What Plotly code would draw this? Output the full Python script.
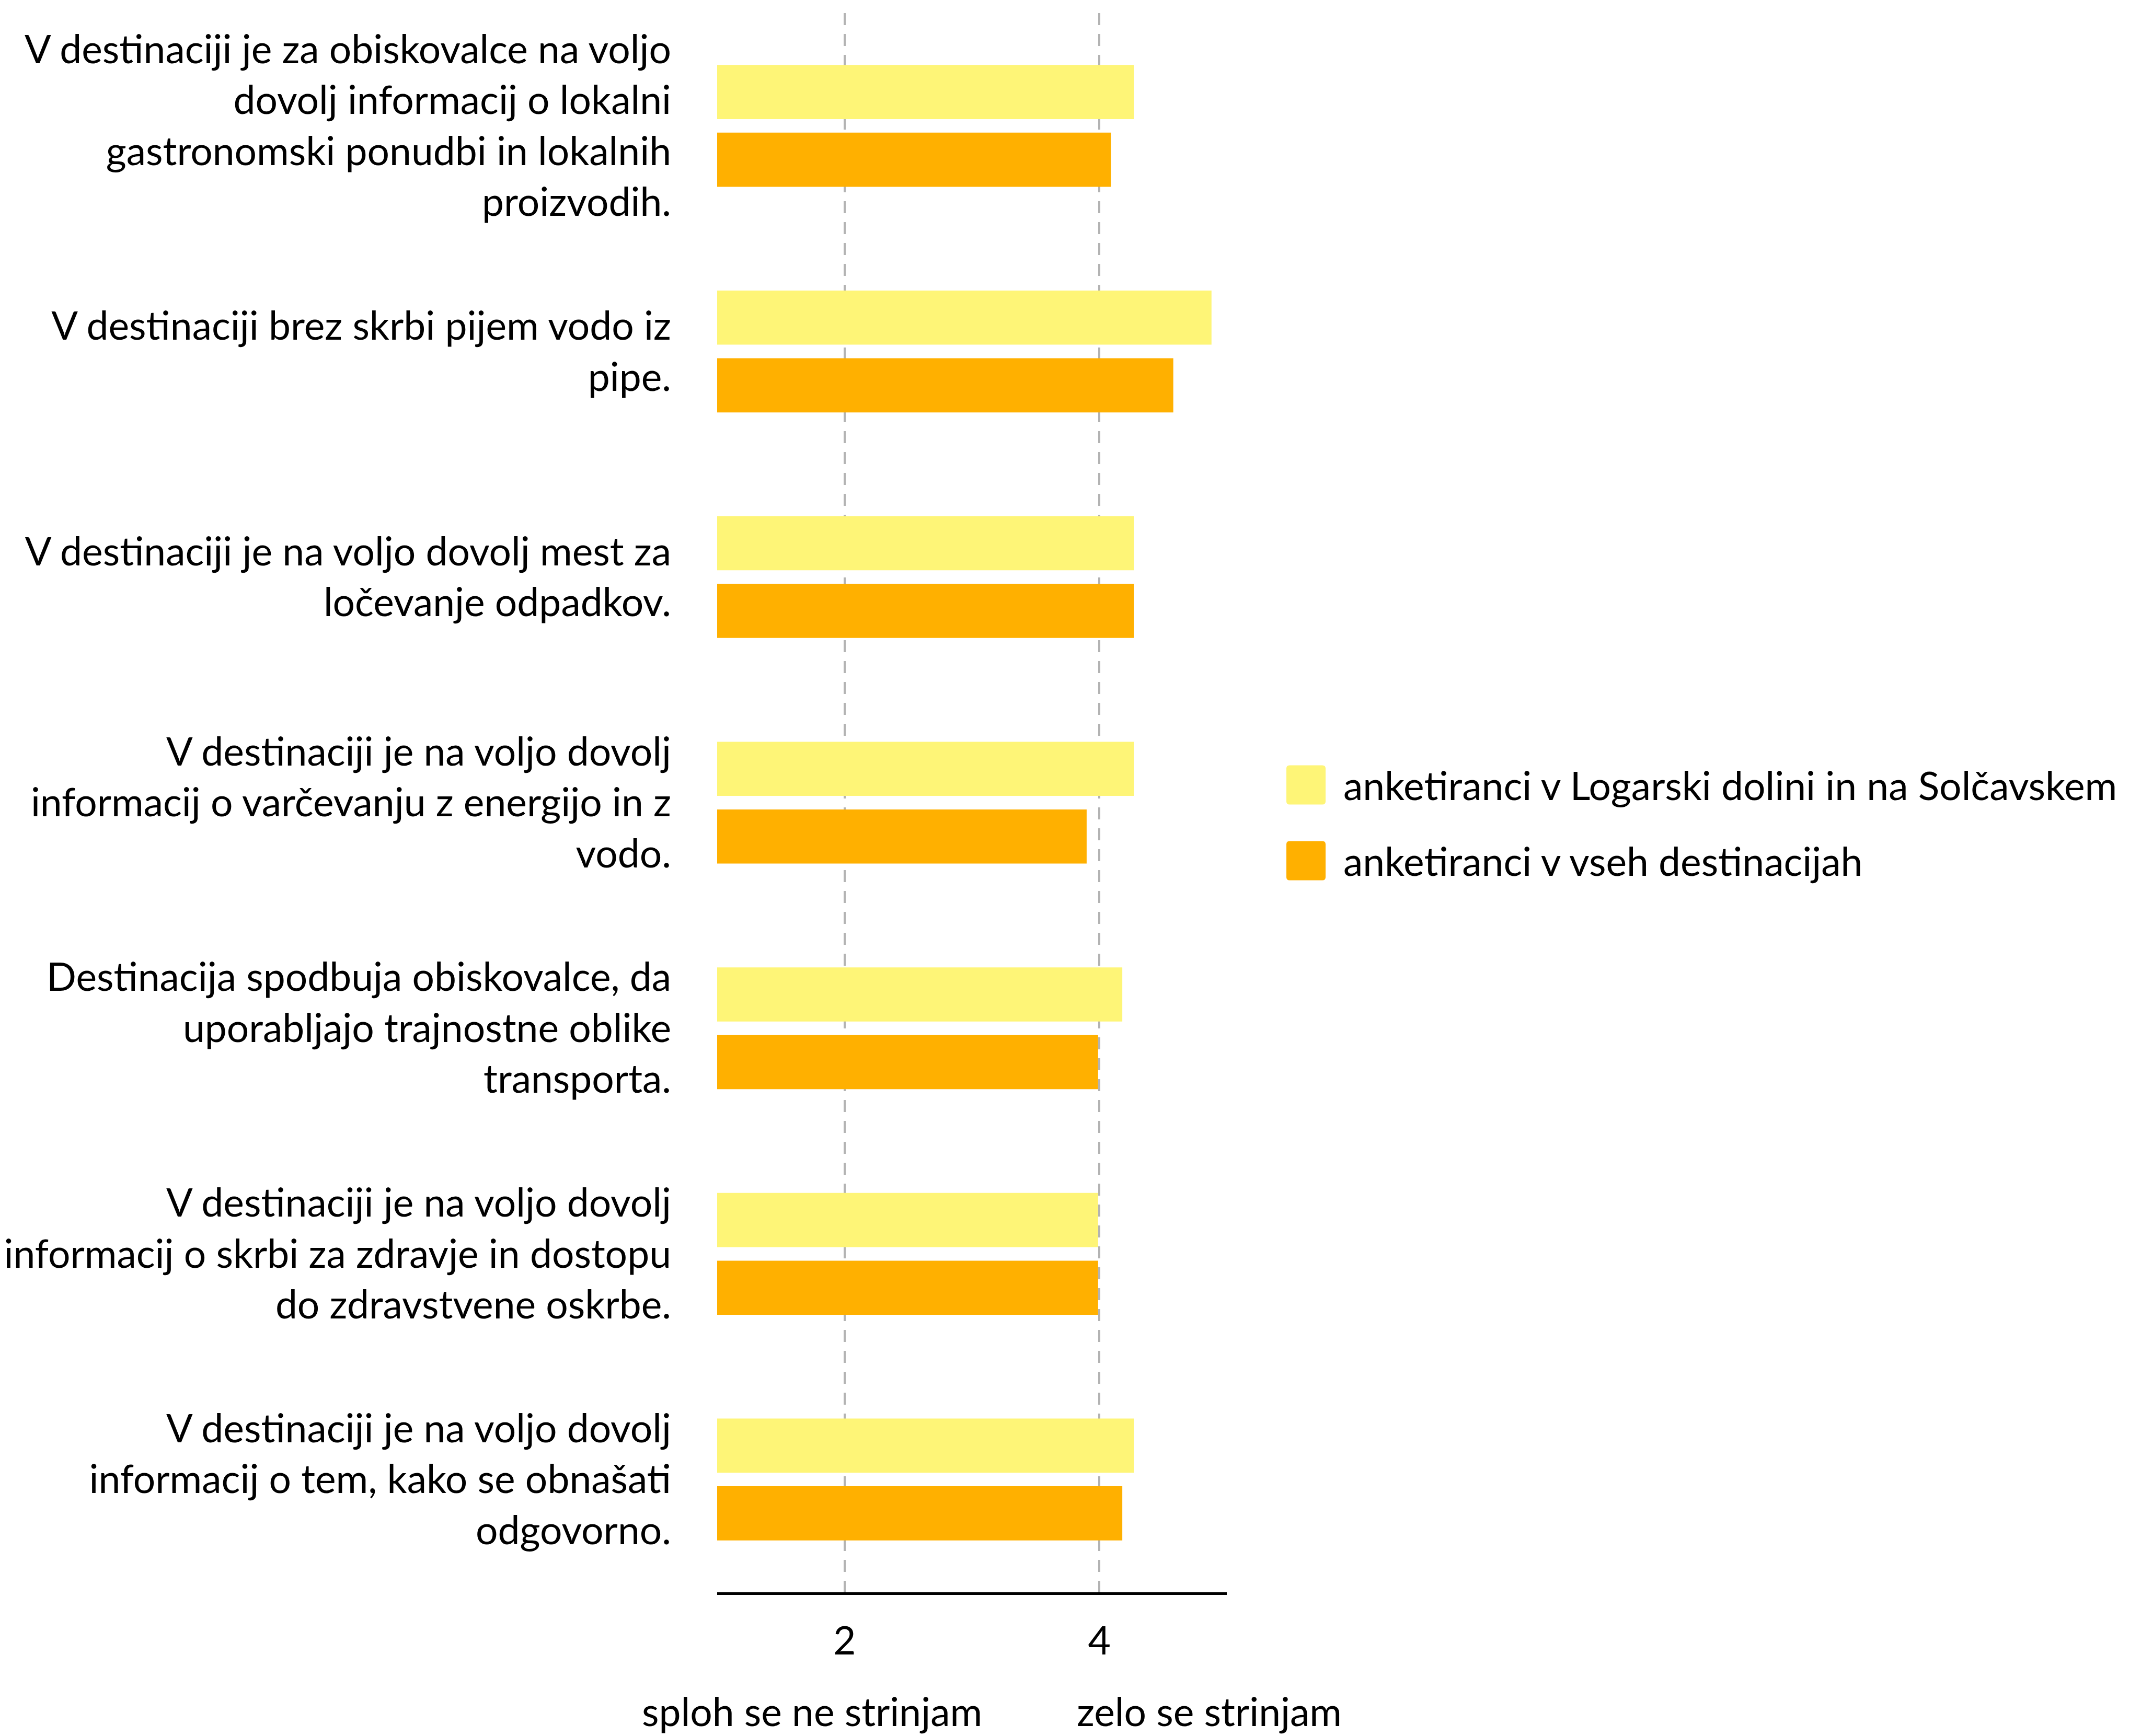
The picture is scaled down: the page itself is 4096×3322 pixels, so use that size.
import plotly.graph_objects as go

# ---- data ----
categories = [
    "V destinaciji je za obiskovalce na voljo<br>dovolj informacij o lokalni<br>gastronomski ponudbi in lokalnih<br>proizvodih.",
    "V destinaciji brez skrbi pijem vodo iz<br>pipe.",
    "V destinaciji je na voljo dovolj mest za<br>ločevanje odpadkov.",
    "V destinaciji je na voljo dovolj<br>informacij o varčevanju z energijo in z<br>vodo.",
    "Destinacija spodbuja obiskovalce, da<br>uporabljajo trajnostne oblike<br>transporta.",
    "V destinaciji je na voljo dovolj<br>informacij o skrbi za zdravje in dostopu<br>do zdravstvene oskrbe.",
    "V destinaciji je na voljo dovolj<br>informacij o tem, kako se obnašati<br>odgovorno.",
]
series_names = [
    "anketiranci v Logarski dolini in na Solčavskem",
    "anketiranci v vseh destinacijah",
]
logarska = [4.27, 4.88, 4.27, 4.27, 4.18, 3.99, 4.27]
vse = [4.09, 4.58, 4.27, 3.90, 3.99, 3.99, 4.18]
colors = ["#FEF577", "#FFB000"]
x_tickvals = [2, 4]
x_ticktext = ["2", "4"]
scale_labels = ["sploh se ne strinjam", "zelo se strinjam"]

# ---- layout geometry (output pixels) ----
W, H = 4096, 3322
L, R = 1364, 2339
T, B = 17, 3039
pw, ph = R - L, B - T
FONT = "Lato"
FS = 75

def px(x):
    return (x - L) / pw

def py(y):
    return (B - y) / ph

fig = go.Figure()
for name, vals, col in zip(series_names, [logarska, vse], colors):
    fig.add_trace(go.Bar(
        y=categories, x=vals, base=0, orientation="h", name=name,
        marker=dict(color=col, line=dict(width=0)), showlegend=False,
    ))

fig.update_layout(
    width=W, height=H,
    margin=dict(l=L, r=W - R, t=T, b=H - B, pad=0, autoexpand=False),
    paper_bgcolor="white", plot_bgcolor="white",
    barmode="group", bargap=0.4, bargroupgap=0.2,
    font=dict(family=FONT, size=FS, color="#000000"),
)
fig.update_xaxes(
    range=[1, 5], tickvals=x_tickvals, ticktext=x_ticktext, automargin=False,
    showgrid=True, gridcolor="#b3b3b3", gridwidth=4, griddash="23px,17px",
    showline=True, linecolor="#000000", linewidth=5, zeroline=False,
    ticks="", ticklabelstandoff=24, tickfont=dict(family=FONT, size=FS),
)
fig.update_yaxes(
    type="category", autorange="reversed", showgrid=False, showline=False,
    zeroline=False, ticks="", ticklabelstandoff=87, automargin=False,
    tickfont=dict(family=FONT, size=FS),
)

# bottom scale annotations
for txt, cx in zip(scale_labels, [1545, 2305]):
    fig.add_annotation(
        x=px(cx), y=py(3266), xref="paper", yref="paper", text=txt,
        showarrow=False, xanchor="center", yanchor="middle",
        font=dict(family=FONT, size=FS, color="#000000"),
    )

# manual legend with large swatches
sw_x0, sw_x1 = 2453, 2528
row_centers = [1494, 1639]
half = 37.5
r = 6
for name, col, cy in zip(series_names, colors, row_centers):
    y0, y1 = cy - half, cy + half
    rx, ry = r / pw, r / ph
    X0, X1 = px(sw_x0), px(sw_x1)
    Yt, Yb = py(y0), py(y1)
    path = (f"M{X0+rx},{Yt} L{X1-rx},{Yt} Q{X1},{Yt} {X1},{Yt-ry} "
            f"L{X1},{Yb+ry} Q{X1},{Yb} {X1-rx},{Yb} L{X0+rx},{Yb} "
            f"Q{X0},{Yb} {X0},{Yb+ry} L{X0},{Yt-ry} Q{X0},{Yt} {X0+rx},{Yt} Z")
    fig.add_shape(type="path", path=path, xref="paper", yref="paper",
                  fillcolor=col, line=dict(width=0))
    fig.add_annotation(
        x=px(2560), y=py(cy), xref="paper", yref="paper", text=name,
        showarrow=False, xanchor="left", yanchor="middle",
        font=dict(family=FONT, size=FS, color="#000000"),
    )

fig.write_html("out.html")
